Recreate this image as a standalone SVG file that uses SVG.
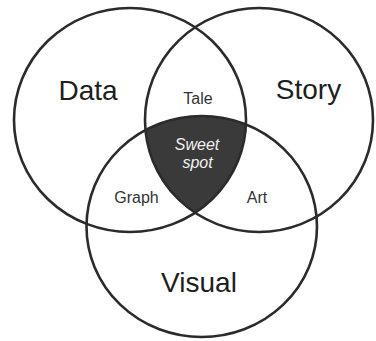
<svg xmlns="http://www.w3.org/2000/svg" width="376" height="341" viewBox="0 0 376 341">
  <style>
    .ring { fill: none; stroke: #2b2b2b; stroke-width: 2.6; }
    .big { font-family: "Liberation Sans", Arial, sans-serif; font-size: 28px; fill: #1e1e1e; text-anchor: middle; }
    .small { font-family: "Liberation Sans", Arial, sans-serif; font-size: 16px; fill: #333333; text-anchor: middle; }
    .sweet { font-family: "Liberation Sans", Arial, sans-serif; font-size: 16px; font-style: italic; fill: #f2f2f2; text-anchor: middle; }
  </style>
  <defs>
    <clipPath id="clip-data">
      <ellipse cx="130" cy="120" rx="116" ry="112"/>
    </clipPath>
    <clipPath id="clip-story">
      <ellipse cx="259" cy="120" rx="114" ry="112"/>
    </clipPath>
  </defs>

  <rect width="376" height="341" fill="#ffffff"/>

  <!-- common area of all three sets -->
  <g id="sweet-spot" clip-path="url(#clip-data)">
    <ellipse cx="201.75" cy="226.5" rx="115.25" ry="110.5" fill="#3a3a3a" clip-path="url(#clip-story)"/>
  </g>

  <g id="set-data">
    <ellipse class="ring" cx="130" cy="120" rx="116" ry="112"/>
    <text class="big" x="88" y="100">Data</text>
  </g>

  <g id="set-story">
    <ellipse class="ring" cx="259" cy="120" rx="114" ry="112"/>
    <text class="big" x="308.5" y="99">Story</text>
  </g>

  <g id="set-visual">
    <ellipse class="ring" cx="201.75" cy="226.5" rx="115.25" ry="110.5"/>
    <text class="big" x="199" y="292">Visual</text>
  </g>

  <g id="overlap-labels">
    <text class="small" x="198" y="104">Tale</text>
    <text class="small" x="136.5" y="203">Graph</text>
    <text class="small" x="257" y="203">Art</text>
    <text class="sweet" x="197" y="150">Sweet</text>
    <text class="sweet" x="197.5" y="168">spot</text>
  </g>
</svg>
